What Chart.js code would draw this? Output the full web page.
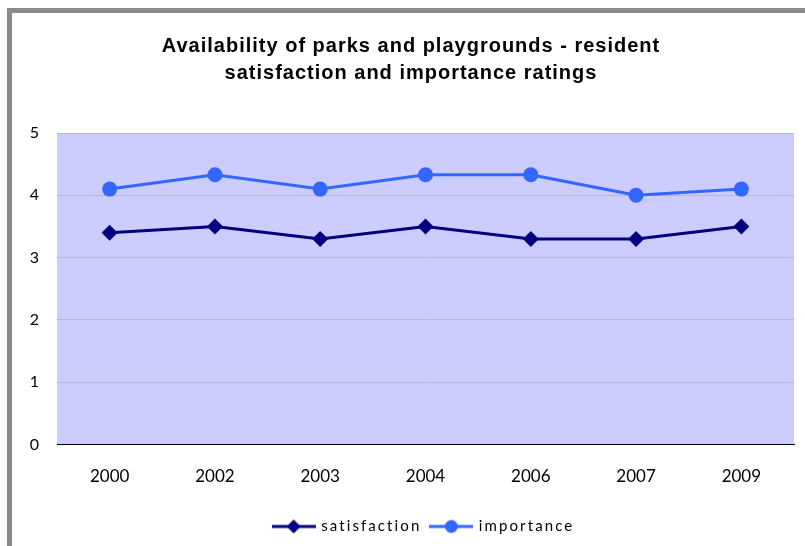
<!DOCTYPE html>
<html>
<head>
<meta charset="utf-8">
<script src="https://cdn.jsdelivr.net/npm/chart.js@4.4.1/dist/chart.umd.min.js"></script>
<style>
    body { margin: 0; background: #fff; overflow: hidden; }
    #frame {
        position: absolute; left: 7px; top: 8px; width: 820px; height: 560px;
        border-left: 5px solid #8a8a8a; border-top: 5px solid #8a8a8a;
    }
    #wrap { position: absolute; left: 0; top: 0; width: 805px; height: 546px; }
</style>
</head>
<body>
<div id="frame"></div>
<div id="wrap"><canvas id="ratingsChart" width="805" height="546"></canvas></div>
<script>
    const years = ["2000", "2002", "2003", "2004", "2006", "2007", "2009"];
    const satisfaction = [3.4, 3.5, 3.3, 3.5, 3.3, 3.3, 3.5];
    const importance = [4.1, 4.33, 4.1, 4.33, 4.33, 4.0, 4.1];
    const yTicks = [0, 1, 2, 3, 4, 5];

    const navy = "#000080";
    const blue = "#3366ff";

    // small picture of line + marker for the legend
    function legendMark(color, style) {
        const c = document.createElement("canvas");
        c.width = 44; c.height = 16;
        const g = c.getContext("2d");
        g.strokeStyle = color; g.fillStyle = color; g.lineWidth = 3;
        g.beginPath(); g.moveTo(0, 8); g.lineTo(44, 8); g.stroke();
        g.beginPath();
        if (style === "diamond") {
            g.moveTo(22, 1); g.lineTo(29, 8); g.lineTo(22, 15); g.lineTo(15, 8);
        } else {
            g.arc(22, 8, 6.5, 0, Math.PI * 2);
        }
        g.closePath(); g.fill();
        return c;
    }

    const plotBg = {
        id: "plotBg",
        beforeDraw(chart) {
            const a = chart.chartArea, ctx = chart.ctx;
            ctx.save();
            ctx.fillStyle = "#ccccff";
            ctx.fillRect(a.left, a.top, a.right - a.left, a.bottom - a.top);
            ctx.restore();
        }
    };

    // title and legend text in the reference are letter-spaced
    function spaced(box, methods, spacing, chart, shiftX) {
        methods.forEach(name => {
            const fn = box[name];
            box[name] = function () {
                const ctx = chart.ctx;
                const old = ctx.letterSpacing;
                ctx.save();
                ctx.letterSpacing = spacing;
                if (name === "draw" && shiftX) ctx.translate(shiftX, 0);
                const r = fn.apply(this, arguments);
                ctx.restore();
                ctx.letterSpacing = old;
                return r;
            };
        });
    }

    const spacedText = {
        id: "spacedText",
        afterInit(chart) {
            // legend sits under the plot centre, not the page centre
            spaced(chart.legend, ["fit", "draw"], "2.1px", chart, 13);
            spaced(chart.titleBlock, ["draw"], "1px", chart, 0);
        }
    };

    let ctx = document.getElementById("ratingsChart").getContext("2d");

    new Chart(ctx, {
        type: "line",
        data: {
            labels: years,
            datasets: [
                {
                    label: "satisfaction",
                    data: satisfaction,
                    borderColor: navy,
                    backgroundColor: navy,
                    borderWidth: 3,
                    pointStyle: "rectRot",
                    pointRadius: 8,
                    pointHoverRadius: 8,
                    pointBorderWidth: 0,
                    tension: 0
                },
                {
                    label: "importance",
                    data: importance,
                    borderColor: blue,
                    backgroundColor: blue,
                    borderWidth: 3,
                    pointStyle: "circle",
                    pointRadius: 7.5,
                    pointHoverRadius: 7.5,
                    pointBorderWidth: 0,
                    tension: 0
                }
            ]
        },
        options: {
            responsive: false,
            animation: false,
            layout: { padding: { left: 28, right: 11, top: 0, bottom: 2 } },
            plugins: {
                tooltip: { enabled: false },
                title: {
                    display: true,
                    text: ["Availability of parks and playgrounds - resident", "satisfaction and importance ratings"],
                    color: "#000",
                    font: { family: "'Liberation Sans', Arial, sans-serif", size: 20, weight: "bold", lineHeight: 1.35 },
                    padding: { top: 33, bottom: 46 }
                },
                legend: {
                    position: "bottom",
                    labels: {
                        color: "#000",
                        font: { family: "Lato, sans-serif", size: 15 },
                        usePointStyle: true,
                        pointStyleWidth: 40,
                        boxHeight: 15,
                        padding: 10,
                        generateLabels: () => [
                            { text: "satisfaction", pointStyle: legendMark(navy, "diamond"), fillStyle: navy, strokeStyle: navy, lineWidth: 0, datasetIndex: 0 },
                            { text: "importance", pointStyle: legendMark(blue, "circle"), fillStyle: blue, strokeStyle: blue, lineWidth: 0, datasetIndex: 1 }
                        ]
                    }
                }
            },
            scales: {
                x: {
                    offset: true,
                    grid: { display: false, drawTicks: false },
                    border: { display: true, color: "#000", width: 1 },
                    ticks: { color: "#000", padding: 22, font: { family: "Lato, sans-serif", size: 17 } }
                },
                y: {
                    min: 0,
                    max: 5,
                    afterFit: scale => { scale.width = 29; },
                    afterBuildTicks: scale => { scale.ticks = yTicks.map(v => ({ value: v })); },
                    grid: { color: "#b8b8cc", lineWidth: 1, drawTicks: false },
                    border: { display: false },
                    ticks: { color: "#000", padding: 18, font: { family: "Lato, sans-serif", size: 16 } }
                }
            }
        },
        plugins: [plotBg, spacedText]
    });
</script>
</body>
</html>
